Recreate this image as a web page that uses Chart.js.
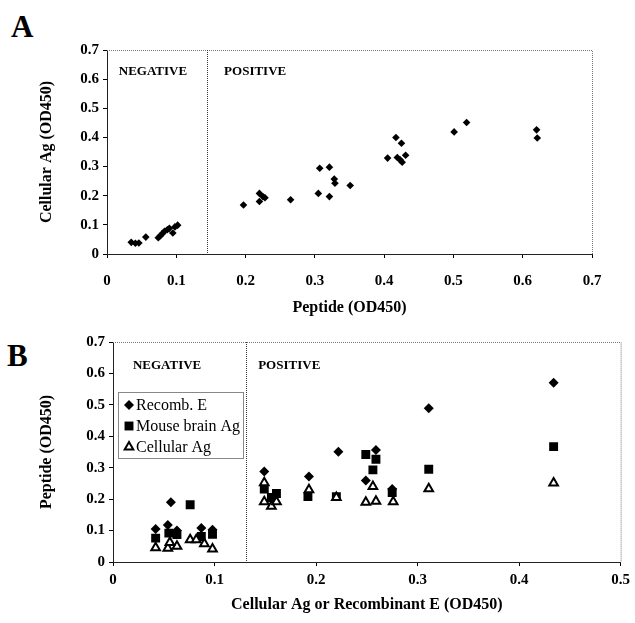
<!DOCTYPE html>
<html>
<head>
<meta charset="utf-8">
<script src="https://cdn.jsdelivr.net/npm/chart.js@4.4.1/dist/chart.umd.min.js"></script>
<style>
  body { margin: 0; background: #fff; width: 635px; height: 623px; position: relative; overflow: hidden; }
  .panel { position: absolute; left: 0; }
  .letter { position: absolute; font: bold 31px "Liberation Serif", serif; color: #000; }
</style>
</head>
<body>
<div class="letter" style="left:11px;top:9px">A</div>
<div class="letter" style="left:7px;top:338px">B</div>
<div class="panel" style="top:0;width:635px;height:322px"><canvas id="chartA"></canvas></div>
<div class="panel" style="top:310px;width:635px;height:313px"><canvas id="chartB"></canvas></div>
<script>
// panel A: peptide vs cellular Ag, one point per serum
var peptideA = [0.035, 0.041, 0.046, 0.056, 0.074, 0.077, 0.080, 0.083, 0.087, 0.090, 0.095, 0.098, 0.102,
                0.197, 0.220, 0.220, 0.225, 0.228, 0.265, 0.305, 0.307, 0.321, 0.321, 0.328, 0.329, 0.351,
                0.405, 0.417, 0.425, 0.419, 0.423, 0.426, 0.431, 0.501, 0.519, 0.620, 0.621];
var cellularA = [0.040, 0.037, 0.038, 0.058, 0.056, 0.063, 0.070, 0.078, 0.083, 0.088, 0.072, 0.093, 0.099,
                 0.168, 0.208, 0.180, 0.197, 0.193, 0.186, 0.208, 0.294, 0.298, 0.197, 0.257, 0.243, 0.235,
                 0.329, 0.400, 0.380, 0.331, 0.323, 0.315, 0.339, 0.419, 0.451, 0.426, 0.398];
var cutoffA = 0.145;

// panel B: x = antigen OD, y = peptide OD
var recombX = [0.042, 0.054, 0.057, 0.063, 0.087, 0.098, 0.149, 0.193, 0.222, 0.249, 0.259, 0.275, 0.311, 0.434];
var recombY = [0.105, 0.118, 0.190, 0.100, 0.108, 0.103, 0.288, 0.272, 0.351, 0.259, 0.356, 0.232, 0.489, 0.570];
var mouseX = [0.042, 0.055, 0.063, 0.076, 0.087, 0.098, 0.149, 0.156, 0.161, 0.192, 0.220, 0.249, 0.259, 0.256, 0.275, 0.311, 0.434];
var mouseY = [0.076, 0.092, 0.087, 0.182, 0.081, 0.088, 0.232, 0.205, 0.218, 0.208, 0.208, 0.342, 0.327, 0.293, 0.221, 0.295, 0.367];
var cellX = [0.042, 0.054, 0.063, 0.056, 0.076, 0.082, 0.090, 0.098, 0.149, 0.149, 0.156, 0.161, 0.193, 0.220, 0.249, 0.259, 0.256, 0.276, 0.311, 0.434];
var cellY = [0.045, 0.044, 0.050, 0.062, 0.071, 0.071, 0.058, 0.041, 0.252, 0.192, 0.177, 0.192, 0.230, 0.205, 0.190, 0.193, 0.240, 0.192, 0.233, 0.251];
var cutoffB = 0.131;

var seriesNames = ['Recomb. E', 'Mouse brain Ag', 'Cellular Ag'];
var regionLabels = ['NEGATIVE', 'POSITIVE'];

function pairs(xs, ys) {
    return xs.map(function(x, i) { return {x: x, y: ys[i]}; });
}

var SERIF = '"Liberation Serif", "Times New Roman", serif';

// dotted frame on top/right, dotted cutoff line, region labels, optional legend
var framePlugin = {
    id: 'frame',
    afterDatasetsDraw: function(chart, args, opts) {
        var ctx = chart.ctx, a = chart.chartArea;
        var xs = chart.scales.x, ys = chart.scales.y;
        ctx.save();
        ctx.strokeStyle = '#777';
        ctx.lineWidth = 1;
        ctx.setLineDash([1, 1]);
        ctx.beginPath();
        ctx.moveTo(a.left, a.top + 0.5);
        ctx.lineTo(a.right + 0.5, a.top + 0.5);
        ctx.lineTo(a.right + 0.5, a.bottom);
        ctx.stroke();
        ctx.strokeStyle = '#333';
        var cx = Math.round(xs.getPixelForValue(opts.cutoff)) + 0.5;
        ctx.beginPath();
        ctx.moveTo(cx, a.top);
        ctx.lineTo(cx, a.bottom);
        ctx.stroke();
        ctx.setLineDash([]);

        ctx.fillStyle = '#000';
        ctx.font = 'bold 13px ' + SERIF;
        ctx.textBaseline = 'middle';
        ctx.textAlign = 'left';
        ctx.fillText(regionLabels[0], xs.getPixelForValue(opts.negX), ys.getPixelForValue(opts.labelY));
        ctx.fillText(regionLabels[1], xs.getPixelForValue(opts.posX), ys.getPixelForValue(opts.labelY));

        if (opts.legend) {
            var lx = a.left + 5, ly = a.top + 50, lw = 125, lh = 66;
            ctx.fillStyle = '#fff';
            ctx.fillRect(lx, ly, lw, lh);
            ctx.strokeStyle = '#888';
            ctx.strokeRect(lx + 0.5, ly + 0.5, lw, lh);
            ctx.font = '16px ' + SERIF;
            chart.data.datasets.forEach(function(ds, i) {
                var py = ly + 13 + i * 21;
                ctx.save();
                ctx.fillStyle = ds.pointBackgroundColor;
                ctx.strokeStyle = ds.pointBorderColor;
                ctx.lineWidth = ds.pointBorderWidth;
                Chart.helpers.drawPoint(ctx, {
                    pointStyle: ds.pointStyle, rotation: 0,
                    radius: ds.pointRadius, borderWidth: ds.pointBorderWidth
                }, lx + 11, py);
                ctx.restore();
                ctx.fillStyle = '#000';
                ctx.fillText(ds.label, lx + 18, py + 1);
            });
        }
        ctx.restore();
    }
};

function axisOpts(max, titleText, isX, size, tickPad, titlePad) {
    return {
        type: 'linear',
        min: 0, max: max,
        ticks: {
            stepSize: 0.1,
            color: '#000',
            font: {family: SERIF, size: 15, weight: 'bold'},
            padding: tickPad
        },
        grid: {drawOnChartArea: false, drawTicks: true, tickLength: 4, color: '#000'},
        border: {color: '#222', width: 1},
        title: {
            display: true, text: titleText, color: '#000',
            font: {family: SERIF, size: 16, weight: 'bold'},
            padding: titlePad
        },
        afterFit: function(scale) {
            if (isX) scale.height = size; else scale.width = size;
        }
    };
}

Chart.defaults.animation = false;

var chartA = new Chart(document.getElementById('chartA').getContext('2d'), {
    type: 'scatter',
    data: {
        datasets: [{
            data: pairs(peptideA, cellularA),
            pointStyle: 'rectRot',
            pointRadius: 3.8,
            pointBackgroundColor: '#000',
            pointBorderColor: '#000',
            pointBorderWidth: 0
        }]
    },
    options: {
        responsive: true,
        maintainAspectRatio: false,
        layout: {padding: {top: 50, right: 43, left: 0, bottom: 0}},
        plugins: {
            legend: {display: false},
            tooltip: {enabled: false},
            frame: {cutoff: cutoffA, negX: 0.017, posX: 0.169, labelY: 0.625, legend: false}
        },
        scales: {
            x: axisOpts(0.7, 'Peptide (OD450)', true, 68, 14, {top: 0, bottom: 5}),
            y: axisOpts(0.7, 'Cellular Ag (OD450)', false, 107, 4, {top: 37, bottom: 0})
        }
    },
    plugins: [framePlugin]
});

var chartB = new Chart(document.getElementById('chartB').getContext('2d'), {
    type: 'scatter',
    data: {
        datasets: [{
            label: seriesNames[0],
            data: pairs(recombX, recombY),
            pointStyle: 'rectRot',
            pointRadius: 5,
            pointBackgroundColor: '#000',
            pointBorderColor: '#000',
            pointBorderWidth: 0,
            order: 1
        }, {
            label: seriesNames[1],
            data: pairs(mouseX, mouseY),
            pointStyle: 'rect',
            pointRadius: 6.3,
            pointBackgroundColor: '#000',
            pointBorderColor: '#000',
            pointBorderWidth: 0,
            order: 2
        }, {
            label: seriesNames[2],
            data: pairs(cellX, cellY),
            pointStyle: 'triangle',
            pointRadius: 5,
            pointBackgroundColor: '#fff',
            pointBorderColor: '#000',
            pointBorderWidth: 2,
            order: 0
        }]
    },
    options: {
        responsive: true,
        maintainAspectRatio: false,
        layout: {padding: {top: 32, right: 12, left: 0, bottom: 0}},
        plugins: {
            legend: {display: false},
            tooltip: {enabled: false},
            frame: {cutoff: cutoffB, negX: 0.0196, posX: 0.143, labelY: 0.626, legend: true}
        },
        scales: {
            x: axisOpts(0.5, 'Cellular Ag or Recombinant E (OD450)', true, 61, 5, {top: 0, bottom: 9}),
            y: axisOpts(0.7, 'Peptide (OD450)', false, 113, 4, {top: 37, bottom: 0})
        }
    },
    plugins: [framePlugin]
});
</script>
</body>
</html>
